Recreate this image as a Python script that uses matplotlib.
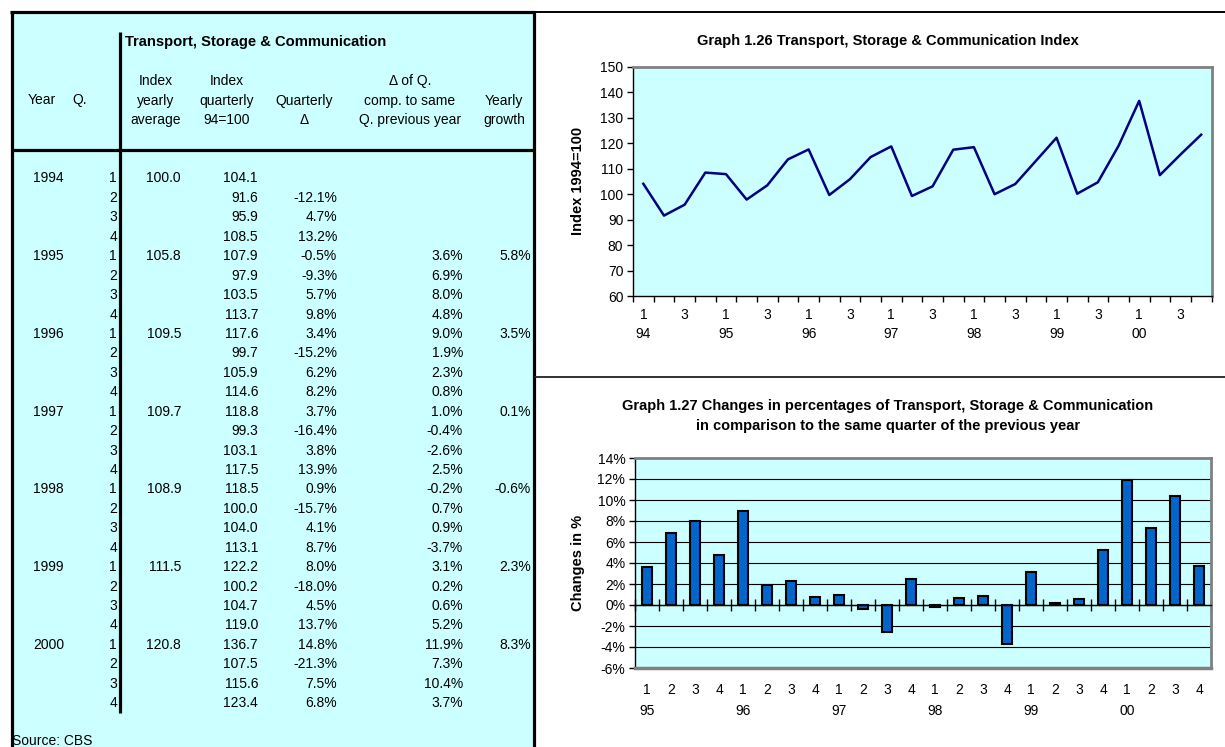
import matplotlib
matplotlib.use("Agg")
import matplotlib.pyplot as plt
from matplotlib.patches import Rectangle
import numpy as np

plt.rcParams['font.family'] = ['Liberation Sans', 'DejaVu Sans']

# ---------------- data ----------------
years = [1994, 1995, 1996, 1997, 1998, 1999, 2000]
yearly_avg = [100.0, 105.8, 109.5, 109.7, 108.9, 111.5, 120.8]
yearly_growth = [None, 5.8, 3.5, 0.1, -0.6, 2.3, 8.3]
quarters = [1, 2, 3, 4]
q_index = [104.1, 91.6, 95.9, 108.5, 107.9, 97.9, 103.5, 113.7,
           117.6, 99.7, 105.9, 114.6, 118.8, 99.3, 103.1, 117.5,
           118.5, 100.0, 104.0, 113.1, 122.2, 100.2, 104.7, 119.0,
           136.7, 107.5, 115.6, 123.4]
q_delta = [None, -12.1, 4.7, 13.2, -0.5, -9.3, 5.7, 9.8,
           3.4, -15.2, 6.2, 8.2, 3.7, -16.4, 3.8, 13.9,
           0.9, -15.7, 4.1, 8.7, 8.0, -18.0, 4.5, 13.7,
           14.8, -21.3, 7.5, 6.8]
yoy_delta = [None, None, None, None,
             3.6, 6.9, 8.0, 4.8, 9.0, 1.9, 2.3, 0.8,
             1.0, -0.4, -2.6, 2.5, -0.2, 0.7, 0.9, -3.7,
             3.1, 0.2, 0.6, 5.2, 11.9, 7.3, 10.4, 3.7]

table_title = "Transport, Storage & Communication"
col_headers = ["Index\nyearly\naverage", "Index\nquarterly\n94=100",
               "Quarterly\n\u0394", "\u0394 of Q.\ncomp. to same\nQ. previous year",
               "Yearly\ngrowth"]
title1 = "Graph 1.26 Transport, Storage & Communication Index"
title2 = ["Graph 1.27 Changes in percentages of Transport, Storage & Communication",
          "in comparison to the same quarter of the previous year"]
ylabel1 = "Index 1994=100"
ylabel2 = "Changes in %"
source = "Source: CBS"

# ---------------- figure ----------------
W, H = 1225, 747
fig = plt.figure(figsize=(W / 100, H / 100), dpi=100)
CYAN = '#CCFFFF'

def px_axes(l, t, r, b):
    return fig.add_axes([l / W, 1 - b / H, (r - l) / W, (b - t) / H])

bg = fig.add_axes([0, 0, 1, 1])
bg.set_xlim(0, W)
bg.set_ylim(H, 0)
bg.axis('off')

# table background and borders
bg.add_patch(Rectangle((11, 12), 523, 740, facecolor=CYAN, edgecolor='none', zorder=0))
K = dict(color='black', solid_capstyle='butt', zorder=2)
bg.plot([10, 535], [12, 12], lw=2.3, **K)
bg.plot([535, 1225], [12, 12], lw=1.4, **K)
bg.plot([11.5, 11.5], [11, 747], lw=2.3, **K)
bg.plot([534, 534], [11, 747], lw=2.3, **K)
bg.plot([11, 535], [150, 150], lw=2.3, **K)
bg.plot([120, 120], [32, 713], lw=2.3, **K)
bg.plot([535, 1225], [376.5, 376.5], lw=1.3, color='#222222', zorder=2)

FS = 10
# header
bg.text(125, 42, table_title, fontsize=10.6, fontweight='bold', ha='left', va='center')
bg.text(42, 100, "Year", fontsize=FS, ha='center', va='center')
bg.text(80, 100, "Q.", fontsize=FS, ha='center', va='center')
hdr_x = [156, 227, 304, 410, 504]
for x, h in zip(hdr_x, col_headers):
    lines = h.split("\n")
    ys = [120 - 19.5 * (len(lines) - 1 - k) for k in range(len(lines))]
    for yy, ln in zip(ys, lines):
        bg.text(x, yy, ln, fontsize=FS, ha='center', va='center')

# rows
def row_y(i):
    return 178.5 + 19.43 * i

x_year, x_q, x_avg, x_idx, x_qd, x_yoy, x_gr = 33, 117, 181, 258, 337, 463, 531
for i, v in enumerate(q_index):
    y = row_y(i)
    yi, qi = divmod(i, 4)
    if qi == 0:
        bg.text(x_year, y, str(years[yi]), fontsize=FS, ha='left', va='center')
        bg.text(x_avg, y, f"{yearly_avg[yi]:.1f}", fontsize=FS, ha='right', va='center')
        if yearly_growth[yi] is not None:
            bg.text(x_gr, y, f"{yearly_growth[yi]:.1f}%", fontsize=FS, ha='right', va='center')
    bg.text(x_q, y, str(quarters[qi]), fontsize=FS, ha='right', va='center')
    bg.text(x_idx, y, f"{v:.1f}", fontsize=FS, ha='right', va='center')
    if q_delta[i] is not None:
        bg.text(x_qd, y, f"{q_delta[i]:.1f}%", fontsize=FS, ha='right', va='center')
    if yoy_delta[i] is not None:
        bg.text(x_yoy, y, f"{yoy_delta[i]:.1f}%", fontsize=FS, ha='right', va='center')

bg.text(12, 741, source, fontsize=FS, ha='left', va='center')

# ---------------- chart 1 ----------------
GRAY = '#808080'
ax1 = px_axes(633, 67, 1211.5, 296)
ax1.set_facecolor(CYAN)
x1 = np.arange(len(q_index))
ax1.plot(x1, q_index, color='#000080', lw=1.8)
ax1.set_xlim(-0.5, len(q_index) - 0.5)
ax1.set_ylim(60, 150)
ax1.set_yticks(np.arange(60, 151, 10))
ax1.set_xticks(np.arange(-0.5, len(q_index), 1))
ax1.set_xticklabels([])
ax1.tick_params(axis='y', direction='out', length=4, width=1, pad=3, labelsize=10)
ax1.tick_params(axis='x', direction='out', length=4, width=1)
for s in ['top', 'right']:
    ax1.spines[s].set_color(GRAY)
    ax1.spines[s].set_linewidth(2)
for s in ['left', 'bottom']:
    ax1.spines[s].set_color('black')
    ax1.spines[s].set_linewidth(1)
for i in range(len(q_index)):
    yi, qi = divmod(i, 4)
    if qi in (0, 2):
        ax1.annotate(str(quarters[qi]), xy=(i, 0), xycoords=('data', 'axes fraction'),
                     xytext=(0, -13.7), textcoords='offset points',
                     ha='center', va='center', fontsize=10)
    if qi == 0:
        ax1.annotate(f"{years[yi] % 100:02d}", xy=(i, 0), xycoords=('data', 'axes fraction'),
                     xytext=(0, -27.4), textcoords='offset points',
                     ha='center', va='center', fontsize=10)
bg.text(888, 41, title1, fontsize=10.5, fontweight='bold', ha='center', va='center')
bg.text(578, 181, ylabel1, fontsize=10.5, fontweight='bold', rotation=90,
        ha='center', va='center')

# ---------------- chart 2 ----------------
yoy_vals = [v for v in yoy_delta if v is not None]
ax2 = px_axes(635, 458, 1211, 668)
ax2.set_facecolor(CYAN)
x2 = np.arange(len(yoy_vals))
ax2.bar(x2, yoy_vals, width=0.42, color='#0066CC', edgecolor='black', linewidth=1.5, zorder=3)
ax2.set_xlim(-0.5, len(yoy_vals) - 0.5)
ax2.set_ylim(-6, 14)
ax2.set_yticks(np.arange(-6, 15, 2))
ax2.set_yticklabels([f"{t}%" for t in range(-6, 15, 2)])
ax2.yaxis.grid(True, color='black', lw=0.8, zorder=1)
ax2.set_axisbelow(True)
ax2.tick_params(axis='y', direction='out', length=4, width=1, pad=3, labelsize=10)
ax2.spines['bottom'].set_position(('data', 0))
ax2.spines['bottom'].set_color('black')
ax2.spines['bottom'].set_linewidth(1)
ax2.spines['bottom'].set_zorder(4)
ax2.set_xticks(np.arange(-0.5, len(yoy_vals), 1))
ax2.set_xticklabels([])
ax2.tick_params(axis='x', direction='inout', length=8, width=1)
for s in ['top', 'right']:
    ax2.spines[s].set_color(GRAY)
    ax2.spines[s].set_linewidth(2)
ax2.spines['left'].set_color('black')
ax2.spines['left'].set_linewidth(1)
ax2.plot([0, 1], [0, 0], transform=ax2.transAxes, color=GRAY, lw=2.5, clip_on=False, zorder=5)
for i in range(len(yoy_vals)):
    yi, qi = divmod(i, 4)
    ax2.annotate(str(quarters[qi]), xy=(i, 0), xycoords=('data', 'axes fraction'),
                 xytext=(0, -15.8), textcoords='offset points',
                 ha='center', va='center', fontsize=10)
    if qi == 0:
        ax2.annotate(f"{years[yi + 1] % 100:02d}", xy=(i, 0), xycoords=('data', 'axes fraction'),
                     xytext=(0, -31), textcoords='offset points',
                     ha='center', va='center', fontsize=10)
bg.text(888, 406, title2[0], fontsize=10.5, fontweight='bold', ha='center', va='center')
bg.text(888, 426, title2[1], fontsize=10.5, fontweight='bold', ha='center', va='center')
bg.text(578, 563, ylabel2, fontsize=10.5, fontweight='bold', rotation=90,
        ha='center', va='center')

fig.savefig("out.png", dpi=100)
